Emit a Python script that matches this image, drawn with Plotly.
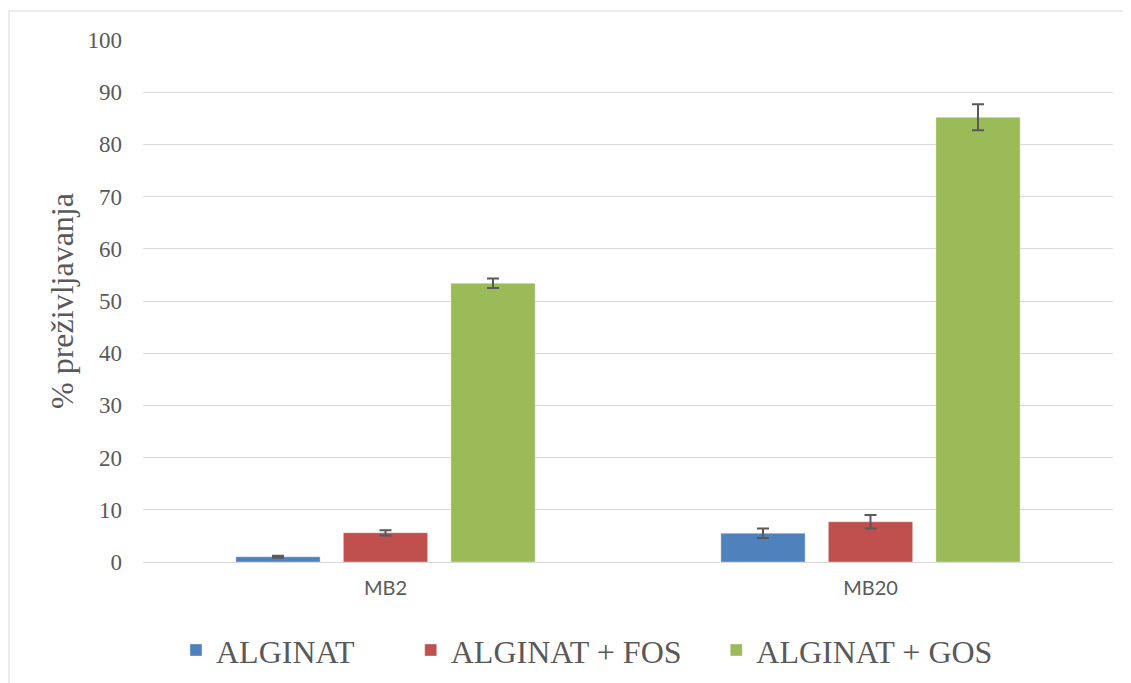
import plotly.graph_objects as go

# Data
categories = ['MB2', 'MB20']
series_names = ['ALGINAT', 'ALGINAT + FOS', 'ALGINAT + GOS']
alginat = [1.0, 5.5]
alginat_fos = [5.6, 7.7]
alginat_gos = [53.4, 85.2]
err_alginat = [0.2, 0.9]
err_fos = [0.5, 1.3]
err_gos = [0.9, 2.5]
y_ticks = [0, 10, 20, 30, 40, 50, 60, 70, 80, 90, 100]

colors = ['#4F81BD', '#C0504D', '#9BBB59']
values = [alginat, alginat_fos, alginat_gos]
errors = [err_alginat, err_fos, err_gos]
legend_ids = ['legend', 'legend2', 'legend3']
legend_x = [0.034, 0.276, 0.591]

serif = 'Liberation Serif, Times New Roman, serif'

fig = go.Figure()

for name, vals, errs, col, lid in zip(series_names, values, errors, colors, legend_ids):
    fig.add_trace(go.Bar(
        x=categories, y=vals, name=name, legend=lid,
        marker=dict(color=col, line=dict(width=1, color='rgba(255,255,255,0.35)')),
        error_y=dict(type='data', array=errs, visible=True,
                     color='#595959', thickness=2, width=6),
    ))

legend_font = dict(family=serif, size=32, color='#595959')
legends = {}
for lid, lx in zip(legend_ids, legend_x):
    legends[lid] = dict(x=lx, xanchor='left', y=-0.169, yanchor='middle',
                        font=legend_font, bgcolor='rgba(0,0,0,0)')

# the page body adds an 8px offset, margins compensate for it
fig.update_layout(
    width=1131, height=683,
    margin=dict(l=135, r=26, t=32, b=129),
    paper_bgcolor='white', plot_bgcolor='white',
    barmode='group', bargap=0.335, bargroupgap=0.216,
    showlegend=True,
    xaxis=dict(showgrid=False, showline=False, zeroline=False,
               tickfont=dict(family='Lato, Liberation Sans, sans-serif', size=20, color='#595959'),
               ticklabelstandoff=12),
    yaxis=dict(range=[0, 100], tickvals=y_ticks, showgrid=True, gridcolor='#D9D9D9', gridwidth=1,
               zeroline=True, zerolinecolor='#D9D9D9', zerolinewidth=1,
               tickfont=dict(family=serif, size=23, color='#595959'),
               ticklabelstandoff=20,
               title=dict(text='% preživljavanja', font=dict(family=serif, size=32, color='#595959'),
                          standoff=4)),
    shapes=[
        dict(type='line', xref='paper', yref='paper', x0=-0.1381, x1=1.03, y0=1.0556, y1=1.0556,
             line=dict(color='#D9D9D9', width=1)),
        dict(type='line', xref='paper', yref='paper', x0=-0.1381, x1=-0.1381, y0=1.0556, y1=-0.25,
             line=dict(color='#D9D9D9', width=1)),
    ],
    **legends,
)

fig.write_html('out.html')
